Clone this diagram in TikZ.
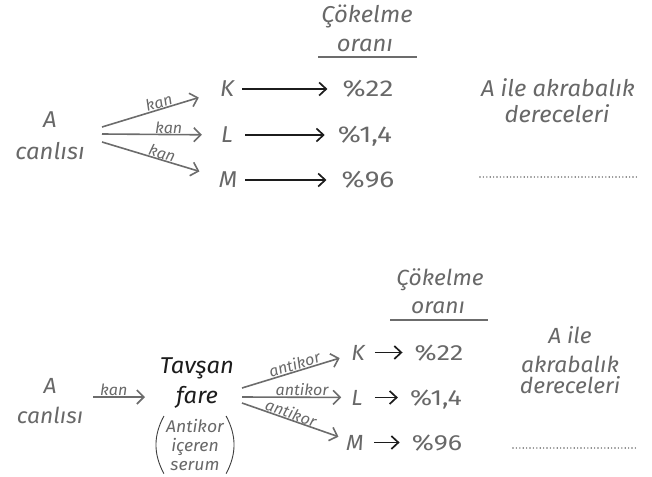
\documentclass[tikz,border=0pt]{standalone}
\usepackage{fontspec}
\setmainfont{Fira Sans}[ItalicFont=* Italic, BoldItalicFont=* Italic,
  FakeStretch=1.04]
\newfontfamily\numfont{Fira Sans}[ItalicFont=* Italic, FakeStretch=1.22]
\usetikzlibrary{arrows.meta}
\definecolor{tgray}{HTML}{686868}
\definecolor{agray}{HTML}{6C6C6C}
\definecolor{ink}{HTML}{1C1C1C}
\tikzset{
  txt/.style={text=tgray, inner sep=0pt, anchor=base,
    font=\itshape\fontsize{23}{26}\selectfont},
  txtb/.style={txt, font=\itshape\fontsize{22}{25}\selectfont},
  letter/.style={txt, text height=16bp, text depth=0pt},
  letterb/.style={txtb, text height=15bp, text depth=0pt},
  num/.style={letter, font=\numfont\fontsize{23}{26}\selectfont},
  numb/.style={letterb, font=\numfont\fontsize{22}{25}\selectfont},
  small/.style={text=tgray, inner sep=0.5pt,
    font=\itshape\fontsize{15.5}{17}\selectfont},
  garr/.style={draw=agray, line width=1.6bp,
    -{Straight Barb[length=7bp, width=14bp, line width=1.6bp]}},
  karr/.style={draw=ink, line width=1.7bp,
    -{Straight Barb[length=7bp, width=13bp, line width=1.7bp]}},
  uline/.style={draw=agray, line width=1.8bp},
  dots/.style={draw=tgray, line width=1.6bp, line cap=round,
    dash pattern=on 0bp off 3.4bp},
  paren/.style={draw=ink!85, line width=0.9bp},
}
\begin{document}
\begin{tikzpicture}[x=1bp, y=-1bp]
\useasboundingbox (0,0) rectangle (652,477);

% ---------- upper scheme: blood injected directly ----------
\node[txt] (ck1) at (367,23) {Çökelme};
\node[txt] (or1) at (365,52) {oranı};
\coordinate (u1l) at (318,57);
\coordinate (u1r) at (417,57);
\draw[uline] (u1l) -- (u1r);

\node[txt] (src1) at (50,128) {A};
\node[txt] (can1) at (50,160) {canlısı};

\node[letter] (K1) at (227,97) {K};
\node[letter] (L1) at (227,143) {L};
\node[letter] (M1) at (228,188) {M};

\node[num] (P1) at (368,97) {\%22};
\node[num] (Q1) at (365,143) {\%1,4};
\node[num] (R1) at (368,188) {\%96};

\coordinate (f1a) at (102,127);
\coordinate (f1b) at (102,134);
\coordinate (f1c) at (102,142);
\draw[garr, shorten >=22bp] (f1a) -- node[small, above, sloped, pos=0.5] {kan} (K1);
\draw[garr, shorten >=19bp] (f1b) -- node[small, above, pos=0.56] {kan} (L1);
\draw[garr, shorten >=20bp] (f1c) -- node[small, above, sloped, pos=0.5, inner sep=0pt] {kan} (M1);

\draw[karr, shorten <=8bp, shorten >=15bp] (K1) -- (P1);
\draw[karr, shorten <=12bp, shorten >=13bp] (L1) -- (Q1);
\draw[karr, shorten <=8bp, shorten >=15bp] (M1) -- (R1);

\node[txt] (rel1) at (558,97) {A ile akrabalık};
\node[txt] (der1) at (557,123) {dereceleri};
\coordinate (d1l) at (480,177);
\coordinate (d1r) at (638,177);
\draw[dots] (d1l) -- (d1r);

% ---------- lower scheme: antiserum from the rabbit ----------
\node[txtb] (ck2) at (440,285) {Çökelme};
\node[txtb] (or2) at (438,313) {oranı};
\coordinate (u2l) at (390,320);
\coordinate (u2r) at (488,320);
\draw[uline] (u2l) -- (u2r);

\node[txtb] (src2) at (50,393) {A};
\node[txtb] (can2) at (50,423) {canlısı};

\node[txt, text=ink, font=\itshape\fontsize{23}{26}\selectfont] (tav) at (197,373) {Tavşan};
\node[txt, text=ink, font=\itshape\fontsize{23}{26}\selectfont] (far) at (197,403) {fare};
\node[text=tgray, inner xsep=4pt, inner ysep=3pt, align=center, anchor=north,
  font=\itshape\fontsize{17}{19}\selectfont] (ser) at (195,416) {Antikor\\içeren\\serum};
\draw[paren] ([xshift=2pt]ser.north west) to[bend right=28] ([xshift=2pt]ser.south west);
\draw[paren] ([xshift=-2pt]ser.north east) to[bend left=28] ([xshift=-2pt]ser.south east);

\coordinate (k2s) at (93,397);
\coordinate (k2e) at (145,397);
\draw[garr] (k2s) -- node[small, above, pos=0.4] {kan} (k2e);

\node[letterb] (K2) at (358,360) {K};
\node[letterb] (L2) at (357,405) {L};
\node[letterb] (M2) at (355,450) {M};

\node[numb] (P2) at (439,360) {\%22};
\node[numb] (Q2) at (436,405) {\%1,4};
\node[numb] (R2) at (437,450) {\%96};

\coordinate (f2a) at (242,388);
\coordinate (f2b) at (242,397);
\coordinate (f2c) at (242,403);
\draw[garr, shorten >=12bp] (f2a) -- node[small, above, sloped, pos=0.5] {antikor} (K2);
\draw[garr, shorten >=10bp] (f2b) -- node[small, above, pos=0.55] {antikor} (L2);
\draw[garr, shorten >=8bp] (f2c) -- node[small, above, sloped, pos=0.45, inner sep=0pt] {antikor} (M2);

\draw[karr, shorten <=10bp, shorten >=12bp] (K2) -- (P2);
\draw[karr, shorten <=12bp, shorten >=12bp] (L2) -- (Q2);
\draw[karr, shorten <=10bp, shorten >=12bp] (M2) -- (R2);

\node[txtb] (rel2a) at (570,343) {A ile};
\node[txtb] (rel2b) at (570,372) {akrabalık};
\node[txtb] (der2) at (570,393) {dereceleri};
\coordinate (d2l) at (513,448);
\coordinate (d2r) at (638,448);
\draw[dots] (d2l) -- (d2r);
\end{tikzpicture}
\end{document}
